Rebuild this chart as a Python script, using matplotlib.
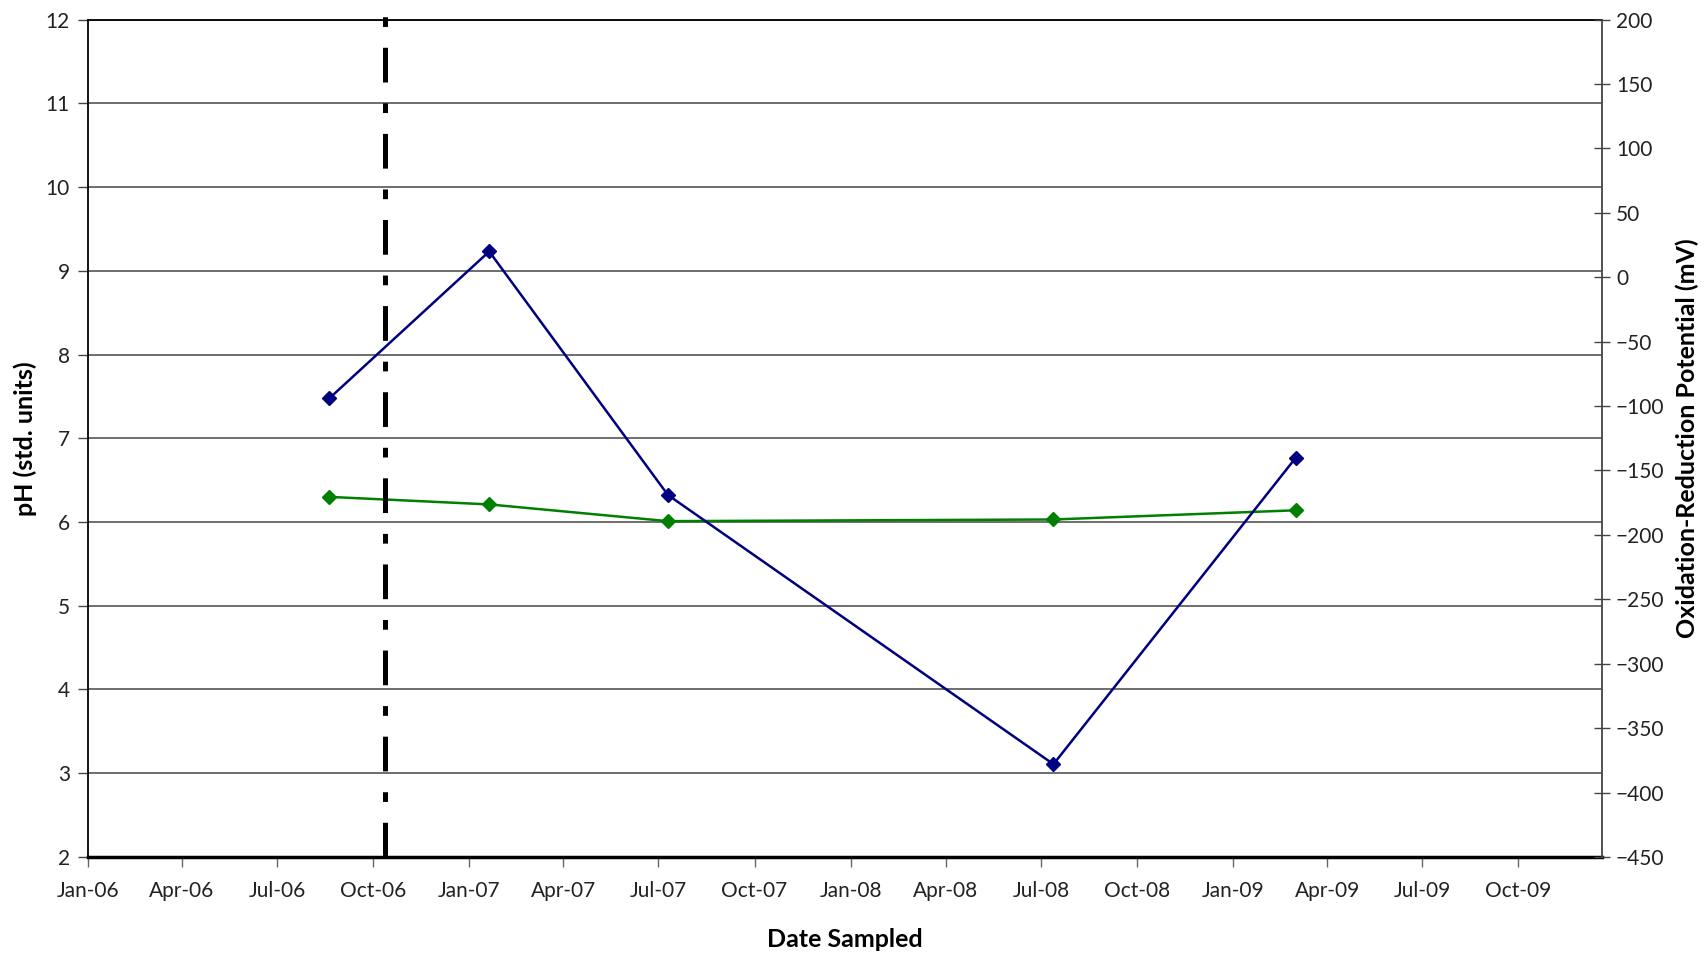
import matplotlib
matplotlib.use("Agg")
import matplotlib.pyplot as plt
import matplotlib.dates as mdates
import numpy as np
import pandas as pd

plt.rcParams['font.family'] = ['Lato', 'DejaVu Sans']
plt.rcParams['lines.scale_dashes'] = False

dates = pd.to_datetime(["2006-08-20", "2007-01-20", "2007-07-10", "2008-07-13", "2009-03-02"])
ph = [6.30, 6.21, 6.01, 6.03, 6.14]
orp = [-94, 20, -169, -378, -140]

event_date = pd.Timestamp("2006-10-12")

fig = plt.figure(figsize=(17.05, 9.59), dpi=100)
ax = fig.add_axes([0.0516, 0.1064, 0.888, 0.8732])
ax2 = ax.twinx()

# pH on left axis, ORP on right axis
ax.plot(dates, ph, color='#008000', lw=1.8, marker='D', markersize=7, zorder=3)
ax2.plot(dates, orp, color='#000080', lw=1.8, marker='D', markersize=7, zorder=3)

# dash-dot marker line (dash lengths in points)
ax.axvline(event_date, ymin=0, ymax=1.005, color='black', lw=3.6,
           linestyle=(0, (25, 15, 7, 15)), clip_on=False, zorder=4)

ax.set_xlim(pd.Timestamp("2006-01-01"), pd.Timestamp("2009-12-20"))
ax.set_ylim(2, 12)
ax2.set_ylim(-450, 200)
ax.set_yticks(np.arange(2, 13, 1))
ax2.set_yticks(np.arange(-450, 201, 50))

ax.xaxis.set_major_locator(mdates.MonthLocator(bymonth=[1, 4, 7, 10]))
ax.xaxis.set_major_formatter(mdates.DateFormatter('%b-%y'))

ax.grid(axis='y', color='#555555', lw=1.2)
ax.set_axisbelow(True)

for s in ['top', 'left']:
    ax.spines[s].set_color('black')
    ax.spines[s].set_linewidth(1.3)
ax.spines['bottom'].set_linewidth(2.5)
ax.spines['right'].set_visible(False)
for s in ['top', 'left', 'bottom']:
    ax2.spines[s].set_visible(False)
ax2.spines['right'].set_color('#444444')
ax2.spines['right'].set_linewidth(1.3)

ax.tick_params(axis='x', direction='out', length=7, width=1, color='#666666',
               labelsize=15, pad=10, labelcolor='#222222')
ax.tick_params(axis='y', direction='out', length=7, width=1, color='#444444',
               labelsize=15, pad=6, labelcolor='#222222')
ax2.tick_params(axis='y', direction='inout', length=12, width=1, color='#444444',
                labelsize=15, pad=4, labelcolor='#222222')

ax.set_xlabel("Date Sampled", fontsize=18, fontweight='bold', labelpad=20)
ax.set_ylabel("pH (std. units)", fontsize=18, fontweight='bold', labelpad=6)
ax2.set_ylabel("Oxidation-Reduction Potential (mV)", fontsize=18, fontweight='bold', labelpad=8)

fig.savefig('out.png', dpi=100)
